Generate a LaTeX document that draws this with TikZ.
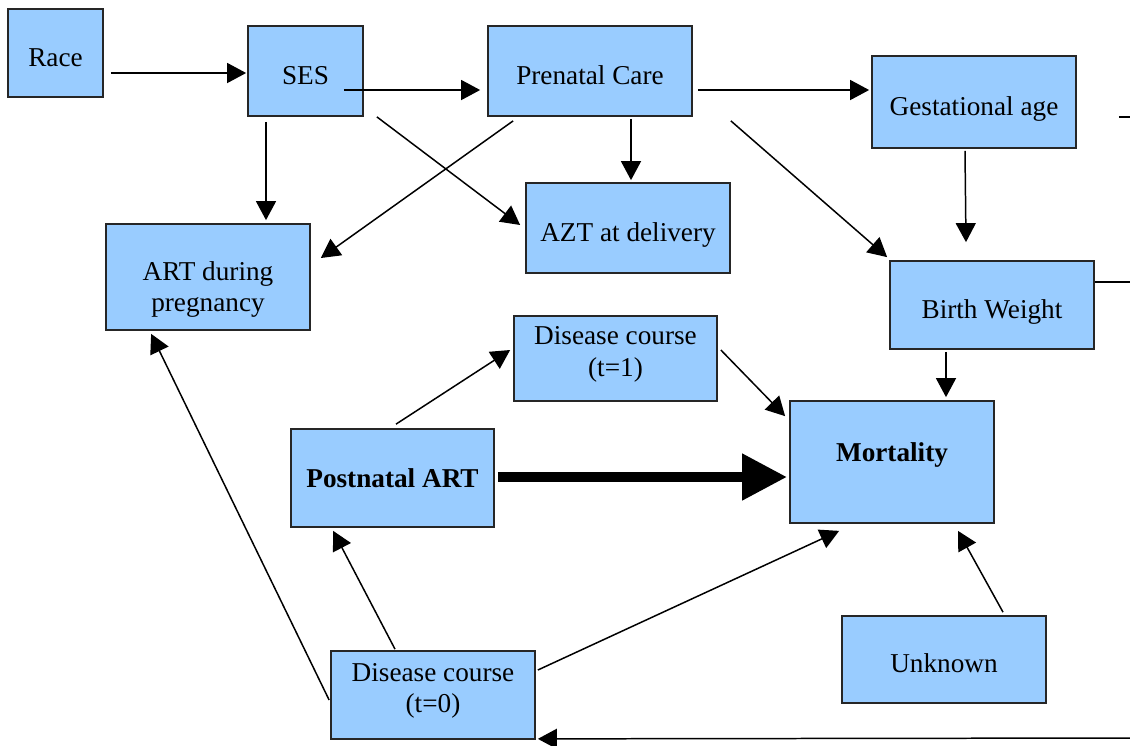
\documentclass[tikz,border=0pt]{standalone}
\usepackage{fontspec}
\setmainfont{Liberation Serif}
\usetikzlibrary{arrows.meta}
\usetikzlibrary{calc}
\usepackage{xcolor}
\definecolor{boxblue}{HTML}{99CCFF}

\begin{document}
\begin{tikzpicture}[x=0.02cm,y=-0.02cm,
    box/.style={draw=black!85, line width=1pt, fill=boxblue, align=center,
      font=\fontsize{15.5}{18}\selectfont, inner sep=0pt},
    onebox/.style={box, text height=14.8pt, text depth=0pt},
    arr/.style={line width=0.85pt, -{Triangle[length=0.38cm,width=0.4cm]}},
    bigarr/.style={line width=6pt, -{Triangle[length=0.9cm,width=0.88cm]}}]
      \useasboundingbox (0,0) rectangle (1130,745);

      % Boxes
      \node[onebox, minimum width=1.9cm, minimum height=1.76cm] (race) at (55.5,53) {Race};
      \node[onebox, minimum width=2.3cm, minimum height=1.8cm] (ses) at (305.5,71) {SES};
      \node[onebox, minimum width=4.08cm, minimum height=1.8cm] (prenatal) at (590,71) {Prenatal Care};
      \node[onebox, minimum width=4.08cm, minimum height=1.84cm] (gest) at (974,102) {Gestational age};
      \node[onebox, minimum width=4.08cm, minimum height=1.8cm] (azt) at (628,228) {AZT at delivery};
      \node[box, minimum width=4.08cm, minimum height=2.12cm] (art) at (208,277) {\rule{0pt}{25pt}ART during\\pregnancy};
      \node[onebox, minimum width=4.08cm, minimum height=1.76cm] (bw) at (992,305) {Birth Weight};
      \node[box, minimum width=4.06cm, minimum height=1.7cm] (dis1) at (615.5,358.5) {Disease course\\(t=1)\rule[-8pt]{0pt}{0pt}};
      \node[box, minimum width=4.08cm, minimum height=2.44cm] (mort) at (892,462) {\textbf{Mortality}\\[-7pt]\mbox{}};
      \node[box, minimum width=4.06cm, minimum height=1.96cm] (post) at (392.5,478) {\textbf{Postnatal ART}};
      \node[onebox, minimum width=4.08cm, minimum height=1.74cm] (unk) at (944,659.5) {Unknown};
      \node[box, minimum width=4.08cm, minimum height=1.76cm] (dis0) at (433,695) {Disease course\\(t=0)\rule[-8pt]{0pt}{0pt}};

      % Loose ends at the right margin
      \coordinate (rgtA) at (1130,117);
      \coordinate (rgtB) at (1130,282);
      \coordinate (rgtC) at (1130,738);

      % Top row
      \draw[arr] ($(race.east)+(7,20)$) -- ($(ses.west)+(-1,2)$);
      \draw[arr] ($(ses.east)+(-20,19)$) -- ($(prenatal.west)+(-7,19)$);
      \draw[arr] ($(prenatal.east)+(5,19)$) -- ($(gest.west)+(-2,-12)$);

      % Second row
      \draw[arr] ($(ses.south)+(-39.5,5)$) -- ($(art.north)+(58,-3)$);
      \draw[arr] ($(ses.south east)+(13,0)$) -- ($(azt.west)+(-5,-3)$);
      \draw[arr] ($(prenatal.south west)+(26,4)$) -- ($(art.east)+(10,-19)$);
      \draw[arr] ($(prenatal.south)+(41,2)$) -- ($(azt.north)+(3,-2)$);
      \draw[arr] ($(prenatal.south east)+(38,4)$) -- ($(bw.north west)+(-2,-3)$);
      \draw[arr] ($(gest.south)+(-9,2)$) -- ($(bw.north)+(-26,-18)$);
      \draw[line width=0.85pt] ($(gest.east)+(42,15)$) -- (rgtA);
      \draw[line width=0.85pt] ($(bw.east)+(0,-23)$) -- (rgtB);

      % Into mortality
      \draw[arr] ($(bw.south)+(-46,2)$) -- ($(mort.north)+(54,-3)$);
      \draw[arr] ($(dis1.east)+(3,-8.5)$) -- ($(mort.north west)+(-4,16)$);
      \draw[arr] ($(post.north)+(3.5,-4)$) -- ($(dis1.west)+(-3,-8.5)$);
      \draw[bigarr] ($(post.east)+(3,-1)$) -- ($(mort.west)+(-2,15)$);
      \draw[arr] ($(unk.north)+(59,-3)$) -- ($(mort.south)+(66,7)$);

      % From disease course (t=0)
      \draw[arr] ($(dis0.north)+(-38,-1)$) -- ($(post.south west)+(43,3)$);
      \draw[arr] ($(dis0.west)+(-1,5)$) -- ($(art.south west)+(46,3)$);
      \draw[arr] ($(dis0.east)+(2,-25)$) -- ($(mort.south west)+(50,7)$);
      \draw[arr] (rgtC) -- ($(dis0.south east)+(2,-1)$);
  \end{tikzpicture}
\end{document}
